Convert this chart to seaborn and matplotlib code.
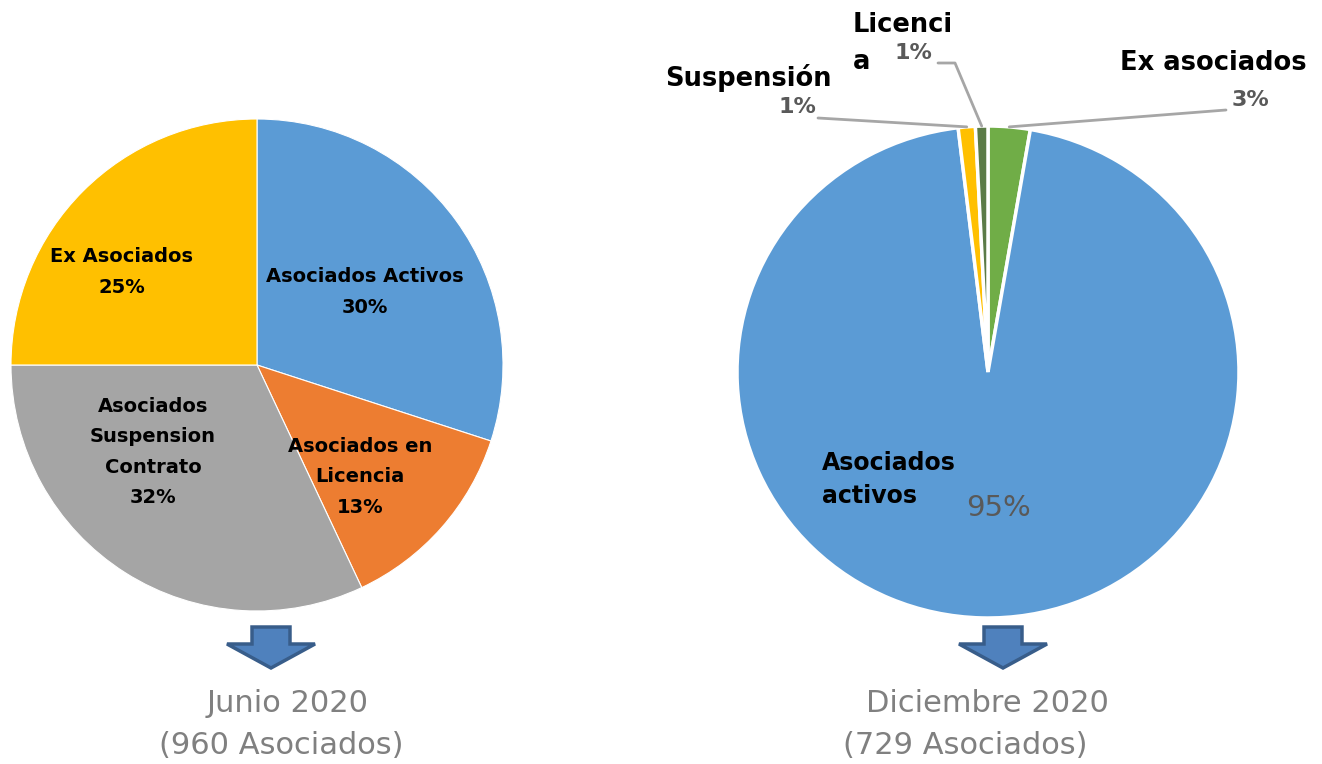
import numpy as np
import matplotlib
matplotlib.use("Agg")
import matplotlib.pyplot as plt
import seaborn as sns
from matplotlib.patches import Polygon

# ---- data ----
jun_labels = ["Asociados Activos", "Asociados en\nLicencia", "Asociados\nSuspension\nContrato", "Ex Asociados"]
jun_values = [30, 13, 32, 25]
jun_colors = ["#5B9BD5", "#ED7D31", "#A5A5A5", "#FFC000"]

dic_labels = ["Ex asociados", "Asociados\nactivos", "Suspensión", "Licenci\na"]
dic_values = [2.7, 95.4, 1.1, 0.8]
dic_pct = ["3%", "95%", "1%", "1%"]
dic_colors = ["#70AD47", "#5B9BD5", "#FFC000", "#5B7B47"]

titles = ["Junio 2020\n(960 Asociados)", "Diciembre 2020\n(729 Asociados)"]

sns.set_theme(style="white")
plt.rcParams['font.family'] = ['DejaVu Sans']

W, H = 1322, 764
fig = plt.figure(figsize=(W / 100, H / 100), dpi=100)
fig.patch.set_facecolor("white")


def px(x, y):
    return (x / W, 1 - y / H)


def pie_axes(cx, cy, rx, ry):
    return fig.add_axes([(cx - rx) / W, (H - cy - ry) / H, 2 * rx / W, 2 * ry / H])


def finish(ax):
    ax.set_xlim(-1, 1)
    ax.set_ylim(-1, 1)
    ax.set_aspect("auto")
    ax.axis("off")


# ---- left pie ----
ax1 = pie_axes(257, 365, 246, 246)
w1, _ = ax1.pie(jun_values, colors=jun_colors, startangle=90, counterclock=False,
                radius=1.0, wedgeprops=dict(linewidth=0.8, edgecolor="white"))
finish(ax1)

left_pos = [(365, 292), (360, 477), (153, 452), (122, 272)]
for lab, v, (x, y) in zip(jun_labels, jun_values, left_pos):
    fig.text(*px(x, y), f"{lab}\n{v}%", ha="center", va="center", fontsize=14,
             fontweight="bold", color="black", linespacing=1.75)

# ---- right pie ----
ax2 = pie_axes(988, 372, 251, 246)
w2, _ = ax2.pie(dic_values, colors=dic_colors, startangle=90, counterclock=False,
                radius=1.0, wedgeprops=dict(linewidth=2.5, edgecolor="white"))
finish(ax2)

# label first-line (left, center-y), line step in px
right_cfg = [
    dict(lab=(1120, 63), step=0, pct=(1250, 100), line=[(1226, 110)], size=18.5),
    dict(lab=(822, 463), step=33, pct=(998, 508), line=None, size=17),
    dict(lab=(665, 78), step=0, pct=(797, 107), line=[(818, 118)], size=18.5),
    dict(lab=(853, 25), step=37, pct=(913, 53), line=[(938, 63), (955, 63)], size=18.5),
]
for i, (lab, cfg) in enumerate(zip(dic_labels, right_cfg)):
    big = i == 1
    for k, part in enumerate(lab.split("\n")):
        fig.text(*px(cfg["lab"][0], cfg["lab"][1] + k * cfg["step"]), part,
                 ha="left", va="center", fontsize=cfg["size"], fontweight="bold",
                 color="black")
    fig.text(*px(*cfg["pct"]), dic_pct[i], ha="center", va="center",
             fontsize=21 if big else 16, color="#595959",
             fontweight="normal" if big else "bold")
    if cfg["line"] is not None:
        w = w2[i]
        ang = np.deg2rad((w.theta1 + w.theta2) / 2)
        ex, ey = np.cos(ang), np.sin(ang)
        end = ax2.transData.transform((ex, ey))
        endf = fig.transFigure.inverted().transform(end)
        pts = [px(*p) for p in cfg["line"]] + [tuple(endf)]
        xs, ys = zip(*pts)
        fig.add_artist(plt.Line2D(xs, ys, transform=fig.transFigure,
                                  color="#A6A6A6", lw=2))


# ---- arrows ----
def arrow(cx, top):
    pts = [(cx - 19, top), (cx + 19, top), (cx + 19, top + 17), (cx + 44, top + 17),
           (cx, top + 41), (cx - 44, top + 17), (cx - 19, top + 17)]
    fig.add_artist(Polygon([px(*p) for p in pts], closed=True, transform=fig.transFigure,
                           facecolor="#4F81BD", edgecolor="#385D8A", lw=2.5))


arrow(271, 627)
arrow(1003, 627)

# ---- titles ----
l0, l1 = titles[0].split("\n")
r0, r1 = titles[1].split("\n")
fig.text(*px(288, 704), l0, ha="center", va="center", fontsize=22, color="#808080")
fig.text(*px(281, 745), l1, ha="center", va="center", fontsize=22, color="#808080")
fig.text(*px(987, 704), r0, ha="center", va="center", fontsize=22, color="#808080")
fig.text(*px(965, 745), r1, ha="center", va="center", fontsize=22, color="#808080")

fig.savefig("out.png", dpi=100, facecolor="white")
